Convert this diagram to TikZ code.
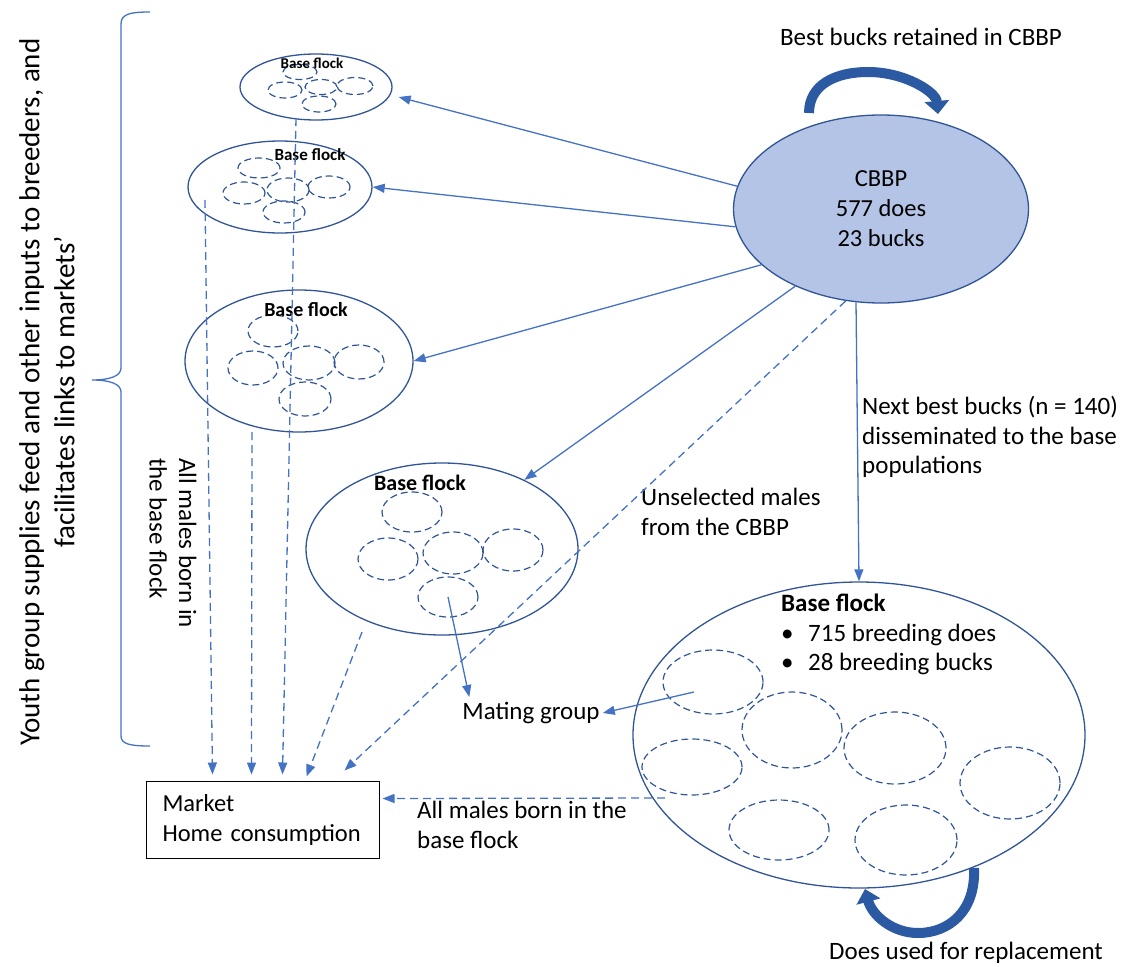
\documentclass[tikz,border=0pt]{standalone}
\usepackage{fontspec}
\setmainfont{Carlito}
\usetikzlibrary{arrows.meta,shapes.geometric}
\definecolor{flockblue}{RGB}{47,85,151}
\definecolor{linkblue}{RGB}{68,114,196}
\definecolor{cbbpfill}{RGB}{180,196,230}
\definecolor{bendblue}{RGB}{44,90,162}
\begin{document}
\begin{tikzpicture}[x=1pt,y=-1pt,
		flock/.style={ellipse,draw=flockblue,line width=1.3pt,inner sep=0pt},
		mgroup/.style={ellipse,draw=flockblue,line width=1.2pt,dash pattern=on 7pt off 4pt,inner sep=0pt},
		link/.style={draw=linkblue,line width=1.3pt,-{Triangle[length=12pt,width=9pt]}},
		cull/.style={link,dash pattern=on 8pt off 5pt},
		loopback/.style={draw=bendblue,line width=10pt,-{Triangle[length=13pt,width=24pt]}},
		note/.style={font=\fontsize{25}{29.5}\selectfont,align=left,inner sep=0pt},
		flocktitle/.style={font=\bfseries\fontsize{#1}{#1}\selectfont,inner sep=0pt}]
	\useasboundingbox (0,0) rectangle (1126,966);

	\node[flock,fill=cbbpfill,minimum width=295pt,minimum height=188pt,
		font=\fontsize{24.5}{30}\selectfont,align=center] (cbbp) at (881,209) {CBBP\\577 does\\23 bucks};
	\node[flock,minimum width=152pt,minimum height=66pt] (flockA) at (316,87) {};
	\node[flock,minimum width=184pt,minimum height=92pt] (flockB) at (280,187) {};
	\node[flock,minimum width=228pt,minimum height=142pt] (flockC) at (299,361) {};
	\node[flock,minimum width=272pt,minimum height=172pt] (flockD) at (442,549) {};
	\node[flock,minimum width=452pt,minimum height=306pt] (flockE) at (859,735) {};

	\foreach \n/\x/\y/\w/\h in {a1/300/72/34/15,a2/285/90/34/16,a3/321/87/32/15,a4/355/86/36/17,a5/319/104/34/16,
		b1/259/168/42/20,b2/244/193/42/22,b3/288/190/42/24,b4/329/187/42/22,b5/284/212/42/22,
		c1/273/331/50/32,c2/253/368/50/34,c3/309/363/52/34,c4/359/362/50/34,c5/305/399/52/34,
		d1/412/512/60/40,d2/388/559/60/42,d3/453/553/60/42,d4/513/550/60/42,d5/448/597/60/40,
		e1/713/682/100/64,e2/792/730/100/76,e3/895/748/102/72,e4/692/767/100/56,
		e5/1010/783/100/72,e6/779/830/100/60,e7/906/840/102/70}
		\node[mgroup,minimum width=\w pt,minimum height=\h pt] (\n) at (\x,\y) {};

	\node[flocktitle=15] (titleA) at (312,63) {Base flock};
	\node[flocktitle=17] (titleB) at (310,155) {Base flock};
	\node[flocktitle=20] (titleC) at (306,310) {Base flock};
	\node[flocktitle=22] (titleD) at (420,483) {Base flock};
	\node[note,anchor=north west] (titleE) at (781,594)
		{\textbf{\fontsize{25}{25}\selectfont Base flock}\\
		\makebox[27pt][l]{\textbullet}715 breeding does\\
		\makebox[27pt][l]{\textbullet}28 breeding bucks};

	\node[draw,line width=1pt,minimum width=233pt,minimum height=77pt,text width=200pt,
		font=\fontsize{24.5}{30}\selectfont,align=left] (market) at (262.5,819.5) {Market\\Home consumption};
	\node[note] (mating) at (531,713) {Mating group};

	\node[note,anchor=center,align=center] (keep) at (921,37) {Best bucks retained in CBBP};
	\node[note,anchor=center,align=center] (replace) at (966,953) {Does used for replacement};
	\node[note,anchor=west] (nextbest) at (862,437) {Next best bucks (n = 140)\\disseminated to the base\\populations};
	\node[note,anchor=west] (unselected) at (641,512) {Unselected males\\from the CBBP};
	\node[note,anchor=west] (bornE) at (417,825) {All males born in the\\base flock};
	\node[note,rotate=-90] (bornleft) at (173,543) {All males born in\\the base flock};
	\node[font=\fontsize{29}{35}\selectfont,align=center,rotate=90,inner sep=0pt] (youth) at (47,392)
		{Youth group supplies feed and other inputs to breeders, and\\facilitates links to markets’};

	\draw[linkblue,line width=1.3pt] (150,12) .. controls (130,12) and (121,14) .. (121,24) -- (121,368)
		.. controls (121,376) and (110,380) .. (92,380) .. controls (110,380) and (121,384) .. (121,392)
		-- (121,736) .. controls (121,744) and (130,746) .. (150,746);

	\draw[link] (cbbp.171) -- ([xshift=6pt,yshift=-10pt]flockA.east);
	\draw[link] (cbbp.187) -- (flockB.east);
	\draw[link] (cbbp.205) -- (flockC.east);
	\draw[link] (cbbp.222) -- (flockD.40);
	\draw[link] (cbbp.255) -- (flockE.north);

	\coordinate (outA) at (296,118);
	\coordinate (outB) at (205,200);
	\coordinate (outC) at (252,432);
	\coordinate (outD) at (362,632);
	\coordinate (outE) at (665,798);
	\draw[cull] (outB) -- ([shift={(-50pt,6pt)}]market.north);
	\draw[cull] (outC) -- ([shift={(-11pt,6pt)}]market.north);
	\draw[cull] (outA) -- ([shift={(20pt,6pt)}]market.north);
	\draw[cull] (outD) -- ([shift={(44pt,4pt)}]market.north);
	\draw[cull] (cbbp.249) -- ([shift={(82pt,10pt)}]market.north);
	\draw[cull] (outE) -- ([shift={(3pt,21pt)}]market.east);

	\draw[link] (d5.center) -- ([shift={(7pt,5pt)}]mating.north west);
	\draw[link] ([shift={(-19pt,-10pt)}]e1.center) -- ([xshift=3pt]mating.east);

	\draw[loopback] (809,113) .. controls (809,85) and (835,72) .. (868,72) .. controls (905,72) and (936,92) .. (938,114);
	\draw[loopback] (974,868) .. controls (976,912) and (948,933) .. (918,933) .. controls (892,933) and (872,915) .. (865,889);
\end{tikzpicture}
\end{document}
